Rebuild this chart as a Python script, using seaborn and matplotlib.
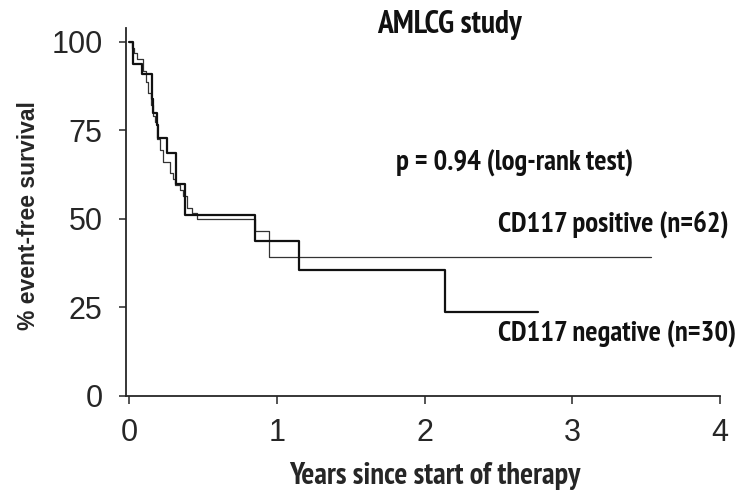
import matplotlib
matplotlib.use('Agg')
import matplotlib.pyplot as plt
from matplotlib import font_manager
import pandas as pd
import seaborn as sns

# Kaplan-Meier steps (years, % event-free)
pos_years = [0, 0.02, 0.034, 0.052, 0.093, 0.115, 0.131, 0.147, 0.16, 0.176,
             0.1875, 0.21, 0.232, 0.278, 0.30, 0.311, 0.345, 0.368, 0.39,
             0.424, 0.458, 0.855, 0.945, 3.53]
pos_efs = [100, 98.4, 96.8, 95.2, 91.9, 88.7, 85.5, 82.3, 79.0, 77.4,
           72.6, 69.4, 66.1, 62.9, 61.3, 59.7, 58.1, 56.5, 53.2,
           51.6, 50.0, 46.6, 39.2, 39.2]

neg_years = [0, 0.029, 0.086, 0.154, 0.165, 0.19, 0.199, 0.255, 0.318,
             0.38, 0.855, 1.148, 2.138, 2.77]
neg_efs = [100, 93.7, 90.9, 84.0, 79.9, 76.5, 72.8, 68.5, 59.9,
           51.2, 43.7, 35.6, 23.7, 23.7]

x_ticks = [0, 1, 2, 3, 4]
y_ticks = [0, 25, 50, 75, 100]

sns.set_style('ticks')
plt.rcParams['font.family'] = ['Liberation Sans', 'DejaVu Sans']

# look for a condensed bold face for the annotations (narrow Helvetica-like first)
def pick_condensed():
    fonts = font_manager.fontManager.ttflist
    bold = [f for f in fonts if f.weight in ('bold', 700, '700')]
    for key in ['Narrow', 'Condensed']:
        for f in bold:
            if key in f.fname or key in f.name:
                return f.fname
    for f in bold:
        if str(f.stretch) in ('condensed', 'semi-condensed'):
            return f.fname
    return None

cond = pick_condensed()
if cond:
    ann_font = font_manager.FontProperties(fname=cond, size=18)
else:
    ann_font = font_manager.FontProperties(family='Liberation Sans', weight='bold', size=16)

fig = plt.figure(figsize=(7.43, 4.91), dpi=100)
ax = fig.add_axes([0.1696, 0.1935, 0.7995, 0.75])

pos = pd.DataFrame({'years': pos_years, 'efs': pos_efs})
neg = pd.DataFrame({'years': neg_years, 'efs': neg_efs})

sns.lineplot(data=pos, x='years', y='efs', ax=ax, drawstyle='steps-post',
             estimator=None, color='#333333', linewidth=0.9)
sns.lineplot(data=neg, x='years', y='efs', ax=ax, drawstyle='steps-post',
             estimator=None, color='#111111', linewidth=1.6)

ax.set_xlim(-0.02, 4.0)
ax.set_ylim(0, 104)
ax.set_xticks(x_ticks)
ax.set_yticks(y_ticks)
ax.tick_params(axis='x', length=6, width=1.1, pad=10, labelsize=22)
ax.tick_params(axis='y', length=5, width=1.1, pad=12, labelsize=22)
for side in ['top', 'right']:
    ax.spines[side].set_visible(False)
for side in ['left', 'bottom']:
    ax.spines[side].set_linewidth(1.3)

# size the condensed face so the p-value line is as wide as in the original (~238 px)
probe = fig.text(0, 0, 'p = 0.94 (log-rank test)', fontproperties=ann_font)
w = probe.get_window_extent(renderer=fig.canvas.get_renderer()).width
probe.remove()
ann_font.set_size(ann_font.get_size() * 238.0 / w)
title_font = ann_font.copy()
title_font.set_size(ann_font.get_size() * 1.1)
xlab_font = ann_font.copy()
xlab_font.set_size(ann_font.get_size() * 1.06)

ax.set_ylabel('% event-free survival', family='Liberation Sans', fontsize=16.5,
              fontweight='bold')
ax.yaxis.set_label_coords(-0.145, 0.49)
ax.set_xlabel('Years since start of therapy', fontproperties=xlab_font)
ax.xaxis.label.set_va('center')
ax.xaxis.set_label_coords(0.52, -0.217)

ax.text(2.17, 104.8, 'AMLCG study', ha='center', va='center',
        fontproperties=title_font, color='#111111')
ax.text(1.81, 65.8, 'p = 0.94 (log-rank test)', ha='left', va='center',
        fontproperties=ann_font, color='#111111')
ax.text(2.5, 48.5, 'CD117 positive (n=62)', ha='left', va='center',
        fontproperties=ann_font, color='#111111')
ax.text(2.5, 17.5, 'CD117 negative (n=30)', ha='left', va='center',
        fontproperties=ann_font, color='#111111')

fig.savefig('out.png', dpi=100)
